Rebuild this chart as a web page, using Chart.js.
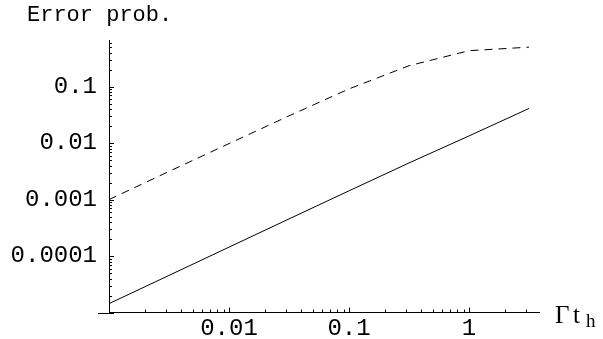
<!doctype html>
<html>
  <head>
    <meta charset="utf-8" />
    <title>Error prob.</title>
    <script src="https://cdn.jsdelivr.net/npm/chart.js"></script>
    <style>
      html, body { margin: 0; padding: 0; background: #fff; }
      #wrap { width: 603px; height: 339px; position: relative; }
    </style>
  </head>
  <body>
    <div id="wrap"><canvas id="chart"></canvas></div>
    <script type="text/javascript">
      // values (log-log plot)
      const gammaT = [0.001, 0.00316, 0.01, 0.0316, 0.1, 0.316, 1, 3.16];
      const dashedErr = [0.001, 0.00315, 0.0098, 0.0303, 0.091, 0.234, 0.432, 0.499];
      const solidErr = [0.0000144, 0.0000455, 0.000144, 0.000455, 0.00143, 0.00445, 0.0134, 0.041];

      // axis decades and their labels
      const xMajor = [0.001, 0.01, 0.1, 1];
      const xMajorLabels = ["", "0.01", "0.1", "1"];
      const yMajor = [0.00001, 0.0001, 0.001, 0.01, 0.1];
      const yMajorLabels = ["", "0.0001", "0.001", "0.01", "0.1"];

      const xRange = [0.001, 3.83];
      const yRange = [0.00001, 0.668];
      const xAxisStart = 0.00081; // x axis runs a little left of the y axis

      const tickFont = { family: "'Liberation Mono', 'DejaVu Sans Mono', monospace", size: 24 };

      function logTicks(majors, min, max) {
        const out = [];
        majors.forEach((m) => {
          for (let k = 1; k <= 9; k++) {
            const v = m * k;
            if (v >= min * 0.9999 && v <= max) out.push({ value: v, major: k === 1 });
          }
        });
        return out;
      }

      function labelFor(majors, labels, value) {
        const i = majors.findIndex((m) => Math.abs(m - value) / m < 1e-6);
        return i >= 0 ? labels[i] : "";
      }

      const inwardTicks = {
        id: "inwardTicks",
        afterDraw(chart) {
          const { ctx, chartArea } = chart;
          const x = chart.scales.x;
          const y = chart.scales.y;
          ctx.save();
          ctx.strokeStyle = "#000";
          ctx.lineWidth = 1;
          ctx.beginPath();
          x.ticks.forEach((t) => {
            const px = Math.round(x.getPixelForValue(t.value)) + 0.5;
            const len = t.major ? 5 : 3;
            ctx.moveTo(px, chartArea.bottom);
            ctx.lineTo(px, chartArea.bottom - len);
          });
          y.ticks.forEach((t) => {
            const py = Math.round(y.getPixelForValue(t.value)) + 0.5;
            const len = t.major ? 5 : 3;
            ctx.moveTo(chartArea.left, py);
            ctx.lineTo(chartArea.left + len, py);
          });
          const yb = Math.round(chartArea.bottom) + 0.5;
          ctx.moveTo(Math.round(x.getPixelForValue(xAxisStart)), yb);
          ctx.lineTo(chartArea.left, yb);
          ctx.stroke();

          // axis labels
          ctx.fillStyle = "#000";
          ctx.textBaseline = "alphabetic";
          ctx.textAlign = "left";
          ctx.font = "22px 'Liberation Mono', monospace";
          ctx.fillText("Error prob.", 27, 21);

          const lx = chartArea.right + 16;
          ctx.font = "25px 'Liberation Serif', serif";
          ctx.fillText("\u0393", lx, 323);
          ctx.fillText("t", lx + 18, 323);
          ctx.font = "19px 'Liberation Serif', serif";
          ctx.fillText("h", lx + 31, 327);
          ctx.restore();
        },
      };

      new Chart(document.getElementById("chart"), {
        type: "line",
        data: {
          datasets: [
            {
              label: "dashed",
              data: gammaT.map((v, i) => ({ x: v, y: dashedErr[i] })),
              borderColor: "#000",
              borderWidth: 1,
              borderDash: [8, 6],
              pointRadius: 0,
              tension: 0,
            },
            {
              label: "solid",
              data: gammaT.map((v, i) => ({ x: v, y: solidErr[i] })),
              borderColor: "#000",
              borderWidth: 1,
              pointRadius: 0,
              tension: 0,
            },
          ],
        },
        options: {
          responsive: true,
          maintainAspectRatio: false,
          animation: false,
          layout: { padding: { left: 0, top: 40, right: 64, bottom: 0 } },
          plugins: { legend: { display: false }, tooltip: { enabled: false } },
          scales: {
            x: {
              type: "logarithmic",
              bounds: "data",
              min: xRange[0],
              max: xRange[1],
              grid: { display: false, drawTicks: false },
              border: { display: true, color: "#000", width: 1 },
              afterBuildTicks: (scale) => {
                scale.ticks = logTicks(xMajor, xRange[0], xRange[1]);
              },
              afterFit: (scale) => {
                scale.height = 24;
              },
              ticks: {
                autoSkip: false,
                maxRotation: 0,
                padding: 2,
                color: "#000",
                font: tickFont,
                callback: (value) => labelFor(xMajor, xMajorLabels, value),
              },
            },
            y: {
              type: "logarithmic",
              bounds: "data",
              min: yRange[0],
              max: yRange[1],
              grid: { display: false, drawTicks: false },
              border: { display: true, color: "#000", width: 1 },
              afterBuildTicks: (scale) => {
                scale.ticks = logTicks(yMajor, yRange[0], yRange[1]);
              },
              afterFit: (scale) => {
                scale.width = 109;
              },
              ticks: {
                autoSkip: false,
                padding: 12,
                color: "#000",
                font: tickFont,
                callback: (value) => labelFor(yMajor, yMajorLabels, value),
              },
            },
          },
        },
        plugins: [inwardTicks],
      });
    </script>
  </body>
</html>
